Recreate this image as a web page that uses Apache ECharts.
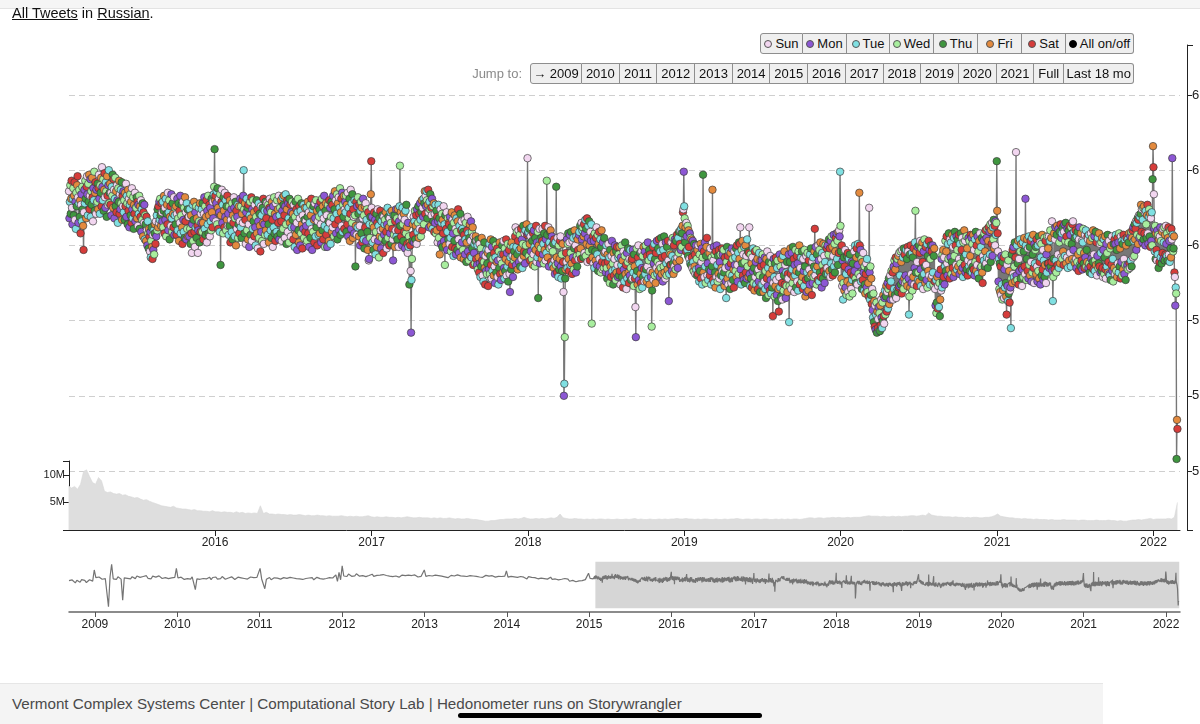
<!DOCTYPE html>
<html><head><meta charset="utf-8">
<script src="https://cdn.jsdelivr.net/npm/echarts@6.0.0/dist/echarts.min.js"></script>
<style>
html,body{margin:0;padding:0;background:#fff;}
body{width:1200px;height:724px;overflow:hidden;position:relative;font-family:'Liberation Sans',Arial,Helvetica,sans-serif;color:#111;}
#chart{position:absolute;left:0;top:0;width:1200px;height:724px;}
.topbar{position:absolute;left:0;top:0;width:1200px;height:8px;background:#f5f5f5;border-bottom:1px solid #e3e3e3;z-index:2;}
.title{position:absolute;left:12px;top:5px;font-size:14.5px;line-height:17px;z-index:2;}
.row{position:absolute;display:flex;height:21px;z-index:2;}
.btn{box-sizing:border-box;height:21px;border:1px solid #8e8e8e;border-left:none;background:#efefef;font-size:13px;line-height:19px;text-align:center;white-space:nowrap;color:#111;}
.btn:first-child{border-left:1px solid #8e8e8e;border-radius:3px 0 0 3px;}
.btn:last-child{border-radius:0 3px 3px 0;}
.dot{display:inline-block;width:8px;height:8px;border-radius:50%;border:1px solid #555;margin-right:3px;box-sizing:border-box;vertical-align:0px;}
.jumplabel{position:absolute;top:63px;right:678px;font-size:13px;line-height:21px;color:#8a8a8a;z-index:2;}
.footer{position:absolute;left:0;top:683px;width:1103px;height:41px;background:#f4f4f4;border-top:1px solid #e6e6e6;box-sizing:border-box;z-index:2;}
.footer span{position:absolute;left:12px;top:11px;font-size:15.2px;color:#4a4a4a;line-height:18px;white-space:nowrap;}
.homebar{position:absolute;left:458px;top:713px;width:304px;height:5px;border-radius:3px;background:#000;z-index:3;}
</style></head>
<body>
<div id="chart"></div>
<div class="topbar"></div>
<div class="title"><u>All Tweets</u> in <u>Russian</u>.</div>
<div class="row" id="legendRow" style="left:760px;top:33px;"></div>
<div class="jumplabel">Jump to:</div>
<div class="row" id="jumpRow" style="left:530px;top:63px;"></div>
<div class="footer"><span>Vermont Complex Systems Center | Computational Story Lab | Hedonometer runs on Storywrangler</span></div>
<div class="homebar"></div>
<script>
// ---------- DATA ----------
// daily happiness, in thousandths above/below 6.000, one value per day from 2015-01-25
const h2015 = [36,18,29,40,21,31,43,
25,14,31,38,20,33,42,17,29,11,35,26,40,46,32,15,28,37,19,30,8,27,34,16,39,24,13,-3,
22,37,28,43,31,18,39,46,34,20,41,29,47,24,33,44,19,36,27,45,32,16,38,30,49,23,35,42,21,37,28,
29,41,24,38,47,31,21,40,35,45,26,52,39,30,44,23,37,48,32,25,42,36,19,46,33,27,40,50,28,35,
41,27,35,20,39,33,47,25,44,37,18,31,45,26,36,22,40,30,15,38,29,43,21,34,24,37,28,42,17,33,26,
36,22,30,17,35,26,41,19,33,28,14,37,23,31,12,27,34,20,29,15,38,24,18,32,11,27,21,35,16,25,
25,32,18,29,13,27,21,33,11,26,19,30,9,24,17,28,6,22,15,27,4,20,14,3,19,10,0,16,8,-2,11,
6,-4,9,-8,3,12,-1,-9,7,-3,10,-6,8,14,1,16,6,20,10,24,12,26,15,29,17,31,20,13,28,22,16,
29,12,23,33,8,25,17,31,6,21,27,14,35,10,22,30,4,19,26,13,34,18,9,28,21,12,32,7,20,25,
14,26,7,21,31,10,18,28,3,23,15,33,8,20,27,12,1,29,17,9,25,5,32,16,22,4,28,11,24,6,19,
19,6,24,11,1,20,8,-5,14,27,3,17,29,9,-1,22,12,26,5,18,13,-5,10,25,16,2,28,9,21,15,
24,9,28,15,4,21,32,11,26,7,19,30,2,23,14,33,8,20,27,6,25,16,10,31,22,12,29,18,34,39,64];
const h2016 = [30,33,16,28,36,14,38,25,11,31,22,9,34,-13,20,29,37,15,27,8,32,23,12,35,19,30,10,26,17,33,13,
21,7,26,13,30,2,17,24,9,28,4,20,15,32,25,6,18,29,0,23,11,19,27,5,14,26,8,16,31,
12,26,5,21,30,15,33,50,24,8,28,17,1,22,31,10,25,4,27,14,-1,20,29,7,18,32,3,24,11,30,16,
22,6,27,12,0,19,30,8,24,-2,16,28,5,21,13,-4,26,9,20,3,25,15,31,1,14,23,7,29,10,18,
28,23,7,27,14,2,25,31,24,10,22,5,29,17,-1,26,12,32,8,21,3,28,19,9,30,6,24,15,33,4,20,
25,8,30,16,3,23,32,11,27,33,20,5,26,34,14,1,24,30,9,28,18,2,31,15,27,6,22,12,29,17,
21,4,27,12,-1,19,29,7,24,15,-3,22,31,10,2,26,18,0,23,8,28,14,-2,20,11,27,5,17,25,9,16,
13,25,3,19,29,8,22,-1,15,27,5,20,31,11,-3,24,9,26,17,2,28,18,6,30,12,23,0,16,26,7,19,
24,8,29,14,2,21,31,10,26,4,18,33,13,-1,23,28,7,20,-1,11,27,16,3,30,15,25,1,19,29,9,
27,12,33,18,6,24,36,14,30,8,21,34,4,28,17,32,10,25,38,7,22,31,13,35,9,27,19,33,11,24,29,
22,33,9,27,14,35,6,25,18,31,3,21,37,11,28,15,34,5,24,19,8,30,20,-14,13,29,7,26,12,32,
21,6,27,13,0,23,29,8,25,2,18,31,4,20,-2,26,12,28,3,17,24,9,-3,22,-10,-9,14,5,19,34,56];
const h2017 = [25,19,2,14,-3,12,22,4,17,-6,9,21,-1,15,24,3,13,-8,18,6,23,10,-2,16,5,20,11,-5,19,7,14,
17,3,22,9,-2,14,25,5,19,12,0,18,8,22,15,1,23,11,4,-10,20,7,20,-1,16,10,24,6,
18,4,24,10,-1,16,26,53,13,22,6,19,0,25,14,3,21,9,17,-2,23,8,27,12,1,-5,15,-1,6,-26,2,
0,-17,-58,-23,-9,3,14,7,19,2,16,23,4,13,20,1,24,9,15,26,5,21,11,28,17,6,22,30,10,25,
19,31,14,28,36,21,33,26,36,30,18,27,37,22,12,29,24,34,13,25,20,31,11,26,16,28,9,21,15,27,8,
23,10,19,2,16,27,5,18,-6,12,24,1,15,21,-1,17,8,26,3,14,-13,20,0,11,22,-3,9,18,4,15,
14,1,19,5,-4,12,22,-1,17,8,-7,15,3,20,-2,11,-6,18,9,-3,16,24,4,-5,13,0,21,-8,10,16,2,
11,-3,9,-9,7,17,-6,4,15,-11,2,10,19,-4,8,-10,5,14,-7,3,16,-8,9,-2,12,-13,6,-5,1,-12,3,
6,-9,3,-13,0,-16,4,-8,-18,1,-12,-21,-2,-14,5,-10,-20,-6,-24,-11,2,-15,-26,-7,-17,-3,-19,-12,-5,-27,
-3,-16,1,-19,-7,4,-13,-22,-1,-17,-9,3,-20,-5,-14,-25,-8,0,-18,-11,-2,-21,-10,-26,-4,-15,2,-19,-9,-23,-6,
-12,0,-18,-6,3,-15,-22,-2,-17,-9,4,-20,-5,-14,1,-24,-11,-3,-19,-31,-8,0,-16,2,-13,-7,-21,-1,-10,-4,
-8,6,12,-13,-1,9,-6,-16,3,10,-11,-3,7,-14,-2,11,-9,4,-15,1,13,-7,-4,8,-12,10,0,-5,14,7,58];
const h2018 = [8,9,-7,11,1,-10,6,-4,12,-9,3,-13,8,-6,10,-1,-14,5,-3,13,-11,2,-8,9,-35,0,-5,11,-12,4,-2,
5,-9,3,11,-6,1,-12,8,-3,13,-10,4,-5,43,7,-8,0,12,-14,2,-2,9,10,-11,-1,6,-13,-4,
1,-15,4,-10,-19,2,-13,39,-8,-18,5,-12,-21,0,-16,-9,3,6,-14,-22,-6,-17,1,-11,-31,-100,-92,-61,-22,-16,-5,
-11,4,-15,1,8,-9,-17,2,7,-13,-5,9,-12,-19,3,-8,5,-16,-2,10,-10,0,-18,6,-7,-14,4,-3,-9,7,
9,-6,13,-2,-9,15,4,10,12,-8,6,14,-5,8,17,-7,11,1,18,-11,5,13,-4,16,0,-10,9,3,14,-52,-3,
-8,6,-12,3,-15,8,-4,-10,5,12,-13,-6,7,-17,1,9,-9,-14,4,-18,-1,10,-11,-16,2,-7,-15,5,-5,-12,
-4,-18,0,-15,-22,-6,-11,1,-19,-8,-25,-3,-14,-21,-7,3,-17,-12,-26,-5,-20,-9,0,-16,-23,-4,-18,-1,-13,-21,-8,
-6,-20,-1,-17,-26,-8,-13,0,-21,-10,-28,-4,-16,-24,-7,2,-19,-13,-29,-5,-22,-11,-2,-18,-25,-9,-20,-3,-15,-23,-10,
-9,-22,-3,-18,-27,-6,-14,-22,-41,-61,-20,-2,-17,-26,-8,0,-23,-12,-29,-5,-19,-25,-4,-15,-28,-7,-21,-1,-16,-24,
-4,-19,0,-16,-24,-7,-14,2,-22,-10,-3,-26,-6,-17,-21,-8,-54,-30,-18,-1,-23,-12,1,-20,-9,-25,-5,-15,3,-19,-11,
-2,-17,4,-13,-21,-4,-15,5,-19,-8,1,-24,-3,-14,6,-18,-7,-22,2,-12,-20,-1,-16,3,-10,-37,-19,-5,-13,-6,
-13,2,-17,-7,5,-12,-19,0,-14,4,-9,-16,3,-11,7,-8,-15,5,-5,9,-10,1,10,-3,11,-1,8,13,22,24,49];
const h2019 = [26,18,2,12,-4,15,6,-3,13,-7,10,-1,-9,8,-12,5,-13,4,-8,-15,3,-11,-17,1,-14,-6,-19,0,-16,-9,-20,
-3,-19,0,-15,-24,-6,-17,1,-22,-11,-2,-26,-8,47,-18,-4,-21,2,-14,-25,-7,-1,5,-20,-12,-23,-5,-16,
-5,-20,-2,-17,-26,-8,-14,37,-23,-10,-1,-25,-6,-18,-28,-4,-21,0,-13,-24,-7,-19,-3,-22,-11,-29,-6,-20,-15,-2,-17,
-6,-21,-3,-18,-27,-8,-15,-24,-35,-11,-1,-22,-7,-26,-14,-4,-19,-29,-5,-12,-25,-2,-20,-9,-23,-16,-28,-4,-13,-8,
-17,-2,-21,0,-13,-24,-5,-19,2,-9,1,12,-16,-26,-3,-12,3,-20,-6,-23,-1,-11,-25,0,-18,-7,-22,4,-14,-4,-21,
-5,12,-19,-27,-6,-22,-12,-28,-8,-17,-2,-25,-15,-30,-4,-21,-11,-26,-3,-18,-9,-29,-16,-24,-5,-20,-31,-10,-14,-26,
-10,-26,-6,-21,-31,-13,-24,-8,-29,-17,-35,-9,-22,-4,-27,-15,-33,-11,-19,-30,-7,-23,-32,-12,-28,-16,-47,-25,-9,-21,-34,
-12,-27,-8,-23,-33,-15,-10,-37,-29,-44,-21,-6,-28,-14,-34,-9,-25,-36,-17,-7,-30,-20,-4,-26,-13,-35,-18,-27,-11,-31,-19,
-22,-6,-51,-27,-11,-2,-19,-29,-5,-16,-25,-1,-21,-9,-31,-13,-20,-3,-28,-17,-7,-24,-12,-30,-4,-18,0,-26,-15,-8,
-8,-24,-4,-21,-29,-9,-17,-27,-3,-14,-34,-23,-7,-31,-18,-5,-22,-30,-10,-16,-26,-6,-20,-2,-19,-33,-11,-25,-8,-21,-14,
-4,11,-20,-1,-16,-26,-6,-14,-23,0,-10,-24,-3,-18,2,-21,-9,-28,-5,-13,-22,1,-17,-7,-25,-11,0,-19,-15,-2,
-15,0,-19,-6,4,-17,-2,-21,3,-12,6,-16,-1,-20,-7,7,-14,1,-18,-4,5,-11,8,-9,3,-13,9,-5,10,6,49];
const h2020 = [13,-4,-22,0,-27,-10,-36,-25,-8,-30,-14,-3,-28,-19,-33,-7,-24,-5,-31,-16,-9,-34,-6,-26,-18,-29,-11,-23,-32,-12,-20,
-20,-4,-17,0,-22,-25,-8,-2,-26,-13,1,-19,-6,35,0,-21,-3,-24,-9,-29,-11,-23,-5,-18,-30,-14,-26,-32,-19,
-12,-28,-9,-31,-16,-25,-34,25,-18,-36,-14,-33,-22,-39,-29,-43,-48,-32,-51,-37,-54,-40,-56,-46,-38,-58,-44,-55,-49,-41,-57,
-45,-57,-40,-53,-36,-48,-55,-38,-50,-33,-47,-52,-35,-30,-46,-34,-27,-44,-31,-25,-42,-29,-22,-39,-27,-20,-36,-24,-17,-33,
-32,-18,-36,-14,-29,-10,-33,-16,-8,-35,-12,-30,-9,-31,-7,-28,-5,-27,-20,-4,-26,-11,-32,-3,-24,-8,-29,-2,-22,-6,-25,
-20,-3,-24,-9,-27,-1,-4,-22,-46,-34,-6,-28,0,-19,-25,-5,-30,-8,-21,-2,-26,-15,2,23,-18,-4,-27,-11,-1,-23,
-18,0,-24,-5,3,-16,-27,-2,-21,2,-11,-29,-4,-19,4,-14,-25,-1,-13,-23,1,-28,-7,-17,3,-20,-3,-26,-9,0,-22,
-4,-20,0,-18,-26,-7,-2,-24,-29,-40,-23,-45,-38,-21,-42,-27,-19,-41,-25,-47,-36,-16,-30,-9,-28,-6,-24,-3,-21,-8,-26,
-14,3,-17,-4,6,-12,-20,1,-9,8,-16,-22,4,-8,2,-19,-11,7,-15,-1,-21,5,-7,9,-18,0,-13,6,-16,-3,
4,-14,7,-9,-19,1,-12,8,-17,-3,5,-15,-21,2,-8,10,-13,3,-18,-6,6,-16,-2,-20,-10,5,-14,3,-17,-7,7,
-12,5,-18,1,-14,7,-16,-3,-20,4,-11,9,-17,0,-13,6,-19,-4,-22,3,-9,8,-15,-1,-14,5,-18,-25,-7,3,
-10,8,-14,-4,10,-12,5,-8,11,-15,3,12,-9,9,-6,14,-11,10,1,15,-7,12,4,17,-2,13,0,16,7,15,56];
const h2021 = [23,8,-4,-24,-9,-29,-12,-31,-14,-33,-7,-26,-36,-11,-30,-8,-35,-16,-28,-6,-25,-34,-46,-13,-27,-37,-10,-32,-17,-38,-30,
-28,-55,-22,-6,-25,-3,-19,-1,-21,-14,2,-24,-8,62,-20,0,-23,-12,3,-26,-9,-17,4,-4,-22,1,-15,-27,
-16,2,-21,-4,5,-14,-19,31,0,-23,-9,4,-17,-2,-22,6,-13,-1,-20,3,-11,-24,5,-18,-6,7,-15,-25,1,-12,-3,
-1,-19,4,-14,-24,0,-17,6,-22,-11,2,-26,-8,1,-20,7,-16,-3,-23,-10,5,-21,-13,3,-25,-6,-18,6,-12,-2,
-12,6,-15,3,10,-14,5,-11,16,-17,-37,-21,-9,8,-16,4,12,-10,-18,7,13,-13,-6,11,-15,2,9,-12,14,-8,5,
8,-9,12,-4,-13,9,14,-7,3,15,-12,6,-8,11,-15,2,10,-10,13,-5,7,-14,12,1,-9,14,16,-3,9,-11,
5,-12,10,-9,-15,6,-11,9,-6,-17,4,12,-13,-4,-14,8,-10,3,-16,2,11,-12,-5,-15,7,-8,10,-14,-3,-11,6,
4,-15,7,-12,-18,3,-14,8,-9,-19,5,-11,10,-16,-6,6,-17,-10,9,-13,2,-20,-7,5,-15,-12,8,-14,1,-18,-5,
2,-17,5,-15,-21,-3,4,-19,-8,6,-16,-22,1,-14,-5,7,-18,-11,3,-19,-20,-2,-23,0,-13,6,-17,-9,-24,1,
-15,4,-19,1,7,-17,-3,-21,5,-12,2,-18,8,-14,-2,-22,6,-11,3,-20,1,-16,7,-9,-19,4,-13,-23,0,5,-15,
-13,4,-16,2,8,-12,-15,6,-10,9,-14,5,10,-8,12,3,-7,14,4,11,16,-3,15,7,18,1,17,20,5,19,
6,21,27,9,24,2,17,25,4,26,8,22,0,23,14,5,20,27,8,1,19,24,6,21,-1,18,3,22,0,44,66];
const h2022 = [52,34,11,-4,13,-9,8,-3,-10,10,-6,7,-15,4,-11,6,12,-8,3,-12,9,-5,11,-9,2,12,-10,7,-6,13,1,
-7,8,-10,5,12,-6,3,-11,10,-2,-8,11,4,58,7,-4,-2,6,-18,-21,-40,-28,-32,-142,-116,-122];
// overview (brush) series before the zoomed window: one value per week from 2008-09-08, same units
const preWeekly = [10,2,14,6,-4,12,8,0,16,5,11,-2,9,15,4,7,
75,28,20,32,24,18,30,22, 26,-150,35,110,21,29,17,33, 25,19,-110,27,36,24,31,20, 34,28,22,38,26,30,18,35,
29,40,24,32,21,37,27,31, 25,39,30,23,34,28,36,22, 33,27,38,30,
85,26,20,31,24,17,29,22, 27,19,33,25,-45,21,30,18, 28,23,34,20,26,31,16,29, 24,32,19,27,22,35,25,18,
30,26,21,33,28,17,25,31, 20,27,34,23,29,19,26,32, 22,28,18,30,24,
85,20,26,-40,18,24,29,15, 22,27,17,25,31,19,23,28, 16,24,21,30,18,26,14,22, 27,20,25,17,29,23,19,26,
21,28,15,24,30,18,22,27, 19,25,23,16,28,21,26,20, 45,5,60,15,
100,38,44,35,50,41,36,47, 39,52,43,37,48,40,45,34, 46,41,38,49,36,44,42,33, 43,39,47,35,41,45,37,40,
34,42,38,46,31,39,44,36, 40,33,43,37,41,35,45,38, 32,39,36,42,
75,36,30,41,34,38,29,43, 35,40,31,37,44,33,39,28, 36,42,32,38,30,45,34,39, 31,37,43,35,29,40,33,38,
27,36,41,32,38,30,35,42, 33,37,29,40,34,31,39,36, 30,35,28,37,
70,31,25,36,28,33,22,30, 27,35,24,31,29,20,34,26, 30,23,28,33,21,29,25,32, 22,28,19,26,31,17,24,20,
25,14,21,18,9,23,12,19, 6,17,11,22,3,15,8,20, 10,2,16,7, 55,24,30,21];
// tweet volume (millions), one value per week from 2015-01-24
const volWeekly = [8.0,7.6,7.9,7.4, 8.3,10.6,10.9,9.7, 8.6,8.3,9.5,8.9,
7.0,6.8,6.9,6.6,6.5,6.6, 6.3,6.4,6.1,6.0,5.8,5.9, 5.6,5.4,5.5,5.2,5.0,4.8, 4.6,4.4,4.3,4.2,4.1,4.3,
4.0,3.9,3.8,3.8,3.7,3.6, 3.7,3.5,3.5,3.4,3.4,3.3, 3.5,3.3,3.3,3.2,3.3,3.2, 3.2,3.1,3.3,3.1,3.2,3.0,
3.1,3.0,3.1,3.0,4.4,3.0, 3.2,2.9,2.9,2.8,2.9,2.8, 2.8,2.7,2.8,2.7,2.7,2.8, 2.7,2.6,2.7,2.6,2.6,2.7,
2.6,2.6,2.5,2.6,2.5,2.5, 2.5,2.6,2.5,2.4,2.5,2.4, 2.5,2.4,2.4,2.5,2.6,2.4, 2.3,2.4,2.3,2.3,2.4,2.3,
2.3,2.2,2.3,2.2,2.3,2.4, 2.3,2.2,2.2,2.3,2.2,2.2, 2.2,2.1,2.2,2.1,2.2,2.1, 2.1,2.2,2.1,2.0,2.1,2.0,
2.0,2.1,2.0,1.9,1.9,1.8, 1.7,1.6,1.6,1.7,1.7,1.8, 1.9,1.9,2.0,2.0,2.0,2.1, 2.0,2.1,2.3,2.1,2.0,2.0,
2.1,2.0,2.1,2.0,2.1,2.2, 2.1,2.3,2.9,2.2,2.1,2.0, 2.0,2.1,2.0,2.0,1.9,2.0, 1.9,2.0,1.9,2.0,2.0,1.9,
2.0,1.9,1.9,2.0,1.9,1.9, 2.0,1.9,2.0,2.1,1.9,2.0, 1.9,1.9,2.0,1.9,1.9,2.0, 1.9,2.0,1.9,2.0,2.0,2.1,
2.0,2.0,2.1,2.0,2.0,1.9, 2.0,1.9,2.0,2.0,1.9,1.9, 2.0,1.9,1.9,2.0,1.9,2.0, 2.0,2.1,2.0,1.9,2.0,2.0,
1.9,2.0,2.0,1.9,2.0,2.0, 1.9,1.9,2.0,1.9,2.0,1.9, 2.0,1.9,2.0,2.0,1.9,2.0, 2.1,2.2,2.2,2.1,2.2,2.2,
2.1,2.2,2.2,2.3,2.2,2.3, 2.2,2.2,2.3,2.2,2.3,2.3, 2.3,2.4,2.5,2.6,2.5,2.5, 2.5,2.4,2.5,2.4,2.4,2.5,
2.4,2.5,2.4,2.5,2.5,2.6, 2.6,2.5,2.6,2.7,2.6,3.1, 2.7,2.6,2.5,2.5,2.4,2.4, 2.4,2.3,2.4,2.3,2.3,2.2,
2.3,2.2,2.3,2.3,2.2,2.2, 2.3,2.3,2.4,2.6,2.9,2.5, 2.4,2.3,2.2,2.2,2.1,2.1, 2.0,2.1,2.0,2.0,1.9,2.0,
1.9,1.9,1.9,1.8,1.9,1.8, 1.8,1.8,1.9,1.8,1.8,1.8, 1.8,1.7,1.8,1.8,1.7,1.7, 1.7,1.8,1.7,1.7,1.7,1.8,
1.7,1.7,1.6,1.7,1.6,1.6, 1.7,1.8,1.8,1.9,1.8,1.9, 2.0,2.1,1.9,2.0,2.0,2.0, 2.0,2.1,2.0,2.3,5.0];
const weekdayNames = ['Sun','Mon','Tue','Wed','Thu','Fri','Sat'];
const weekdayColors = ['#f2d6f0','#8c57d4','#80e0e2','#a8ee9e','#3f963f','#e38a3e','#d63c3a'];
const happinessTicks = [5.85, 5.90, 5.95, 6.00, 6.05, 6.10];
const volumeTicks = [0, 5e6, 10e6];
const volumeTickLabels = ['', '5M', '10M'];
const jumpLabels = ['\u2192 2009','2010','2011','2012','2013','2014','2015','2016','2017','2018','2019','2020','2021','Full','Last 18 mo'];

// ---------- DATE RANGES ----------
const DAY = 86400000;
const dailyStart = Date.UTC(2015,0,25);
const preStart = Date.UTC(2008,8,8);
const volStart = Date.UTC(2015,0,24);
const viewStart = Date.UTC(2015,0,25);
const viewEnd = Date.UTC(2022,2,4);
const fullStart = Date.UTC(2008,8,8);

// ---------- HTML controls ----------
const legendWidths = [43,44,43,44,44,44,44,68];
const legendRow = document.getElementById('legendRow');
weekdayNames.concat(['All on/off']).forEach((name,i)=>{
  const b = document.createElement('div'); b.className='btn'; b.style.width=legendWidths[i]+'px';
  const d = document.createElement('span'); d.className='dot';
  d.style.background = i<7 ? weekdayColors[i] : '#000';
  if(i===7) d.style.borderColor='#000';
  b.appendChild(d); b.appendChild(document.createTextNode(name)); legendRow.appendChild(b);
});
const jumpWidths = [52,37.7,37.7,37.7,37.7,37.7,37.7,37.7,37.7,37.7,37.7,37.7,37.7,30,70];
const jumpRow = document.getElementById('jumpRow');
jumpLabels.forEach((t,i)=>{const b=document.createElement('div');b.className='btn';b.style.width=jumpWidths[i]+'px';b.textContent=t;jumpRow.appendChild(b);});

// ---------- BUILD SERIES DATA ----------
const toHappy = v => +(6 + v/1000).toFixed(3);
const daily = [].concat(h2015,h2016,h2017,h2018,h2019,h2020,h2021,h2022);
const happyPts = daily.map((v,i)=>[dailyStart + i*DAY, toHappy(v)]);
const dayPts = happyPts.map(p=>[p[0], p[1], new Date(p[0]).getUTCDay()]);
const prePts = preWeekly.map((v,i)=>[preStart + i*7*DAY, toHappy(v)]);
const volPts = volWeekly.map((v,i)=>[volStart + i*7*DAY, Math.round(v*1e6)]);
const overviewPts = prePts.concat(happyPts);

const yearLabel = v => { const d = new Date(v); return (d.getUTCMonth()===0 && d.getUTCDate()===1) ? String(d.getUTCFullYear()) : ''; };
const FONT = "'Liberation Sans', Arial, Helvetica, sans-serif";
const YEAR = 365*DAY;

const chart = echarts.init(document.getElementById('chart'), null, {renderer:'canvas'});
const series = [
  { type:'line', name:'volume', xAxisIndex:2, yAxisIndex:2, data:volPts, symbol:'none',
    lineStyle:{color:'#d6d6d6', width:0.6}, areaStyle:{color:'#dedede', opacity:1}, z:1, silent:true },
  { type:'line', name:'path', xAxisIndex:0, yAxisIndex:0, data:happyPts, symbol:'none',
    lineStyle:{color:'#777', width:1.4}, z:2, silent:true },
  { type:'scatter', name:'days', xAxisIndex:0, yAxisIndex:0, data:dayPts, symbol:'circle', symbolSize:7.5,
    itemStyle:{color:p=>weekdayColors[p.data[2]], borderColor:'#3c3c3c', borderWidth:0.7, opacity:1},
    z:3, silent:true, large:false, progressive:0 },
  { type:'line', name:'selection', xAxisIndex:3, yAxisIndex:3, data:[], z:1, silent:true,
    markArea:{ silent:true, itemStyle:{color:'#d6d6d6', borderColor:'#fff', borderWidth:1.5},
      data:[[{xAxis:viewStart},{xAxis:viewEnd}]] } },
  { type:'line', name:'overview', xAxisIndex:3, yAxisIndex:3, data:overviewPts, symbol:'none',
    lineStyle:{color:'#747474', width:1.2}, z:2, silent:true }
];

const gridBase = {left:69, right:20, containLabel:false, outerBoundsMode:'none'};
chart.setOption({
  animation:false, useUTC:true,
  textStyle:{fontFamily:FONT},
  grid:[
    Object.assign({top:95, height:376}, gridBase),
    Object.assign({top:45, height:485}, gridBase),
    Object.assign({top:461, height:69}, gridBase),
    Object.assign({top:561, height:48}, gridBase)
  ],
  xAxis:[
    {gridIndex:0, type:'time', min:viewStart, max:viewEnd, show:false},
    {gridIndex:1, type:'value', min:0, max:1, show:false},
    {gridIndex:2, type:'time', min:viewStart, max:viewEnd, splitNumber:7, minInterval:YEAR, maxInterval:YEAR+DAY,
      axisLine:{lineStyle:{color:'#222', width:1}}, axisTick:{length:6, lineStyle:{color:'#222'}},
      axisLabel:{formatter:yearLabel, color:'#222', fontSize:12, margin:7, hideOverlap:false},
      splitLine:{show:false}},
    {gridIndex:3, type:'time', min:fullStart, max:viewEnd, offset:3, splitNumber:14, minInterval:YEAR, maxInterval:YEAR+DAY,
      axisLine:{lineStyle:{color:'#666', width:1.5}}, axisTick:{length:5, lineStyle:{color:'#555'}},
      axisLabel:{formatter:yearLabel, color:'#222', fontSize:12, margin:7, hideOverlap:false},
      splitLine:{show:false}}
  ],
  yAxis:[
    {gridIndex:0, type:'value', min:happinessTicks[0], max:happinessTicks[happinessTicks.length-1], interval:0.05,
      position:'right', offset:7, axisLine:{show:false}, axisTick:{show:true, length:5, lineStyle:{color:'#222'}},
      axisLabel:{formatter:v=>v.toFixed(2), color:'#222', fontSize:13, margin:5},
      splitLine:{show:true, lineStyle:{color:'#cfcfcf', type:[6,4], width:1}}},
    {gridIndex:1, type:'value', min:0, max:1, interval:1, position:'right', offset:7,
      axisLine:{show:true, onZero:false, lineStyle:{color:'#222', width:1}}, axisTick:{show:true, length:6, lineStyle:{color:'#222'}},
      axisLabel:{show:false}, splitLine:{show:false}},
    {gridIndex:2, type:'value', min:volumeTicks[0], max:12.5e6, interval:volumeTicks[1],
      position:'left', axisLine:{show:true, onZero:false, lineStyle:{color:'#222', width:1}}, axisTick:{show:true, length:6, lineStyle:{color:'#222'}},
      axisLabel:{formatter:v=>{const k=volumeTicks.indexOf(v);return k>=0?volumeTickLabels[k]:'';}, color:'#222', fontSize:11, margin:4},
      splitLine:{show:false}},
    {gridIndex:3, type:'value', min:5.836, max:6.13, show:false}
  ],
  series:series
});
</script>
</body></html>
